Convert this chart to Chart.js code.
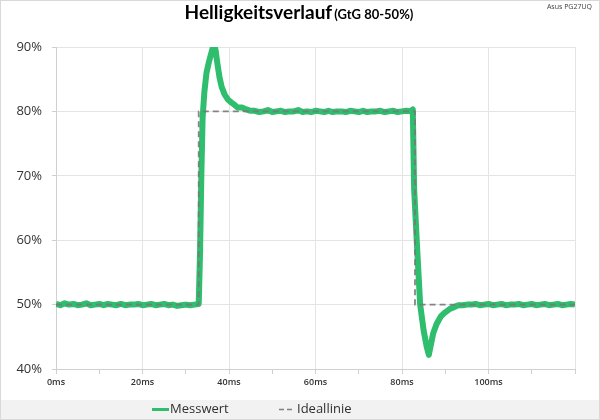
<!DOCTYPE html>
<html>
<head>
<meta charset="utf-8">
<script src="https://cdn.jsdelivr.net/npm/chart.js@4.4.1/dist/chart.umd.min.js"></script>
<style>
  body { margin: 0; background: #fff; }
  canvas { display: block; }
</style>
</head>
<body>
<canvas id="chart" width="600" height="420"></canvas>
<script>
// Messwert (measured brightness, %) over time (ms)
const measuredTimes = [
  0, 1, 2, 3, 4, 5, 6, 7, 8, 9, 10, 11, 12, 13, 14, 15, 16, 17, 18, 19,
  20, 21, 22, 23, 24, 25, 26, 27, 28, 29, 30, 31, 32, 33,
  33.3, 33.6, 33.9, 34.3, 34.8, 35.3, 35.8, 36.3, 36.6, 36.9, 37.3, 37.8,
  38.3, 39, 39.8, 40.5, 41.3, 42, 43, 44, 45,
  46, 47, 48, 49, 50, 51, 52, 53, 54, 55, 56, 57, 58, 59, 60, 61, 62, 63,
  64, 65, 66, 67, 68, 69, 70, 71, 72, 73, 74, 75, 76, 77, 78, 79, 80, 81, 82,
  82.5, 82.8, 83.4, 84.2, 85, 85.7, 86.2, 86.6, 87.2, 88, 89, 90, 91, 92, 93, 94,
  95, 96, 97, 98, 99, 100, 101, 102, 103, 104, 105, 106, 107, 108, 109, 110,
  111, 112, 113, 114, 115, 116, 117, 118, 119, 120
];
const measuredValues = [
  50.1, 49.9, 50.2, 50.0, 50.1, 49.9, 50.0, 50.2, 49.9, 50.0, 50.1, 49.9, 50.1, 50.0, 49.9, 50.1, 49.9, 50.0, 50.0, 50.1,
  49.9, 50.0, 50.1, 49.9, 50.0, 50.1, 49.9, 50.0, 49.8, 49.9, 50.0, 49.9, 50.0, 50.1,
  58, 70, 79, 83, 86, 87.5, 88.8, 90, 90.3, 89.5, 87.5, 85.3,
  83.8, 82.6, 81.8, 81.4, 81.0, 80.6, 80.6, 80.3, 80.1,
  80.1, 79.9, 80.0, 80.2, 79.9, 80.0, 80.1, 79.9, 80.0, 80.0, 80.2, 79.9, 80.0, 79.9, 80.1, 80.0, 79.9, 80.1,
  79.9, 80.0, 80.0, 79.9, 80.1, 80.0, 79.9, 80.1, 79.9, 80.0, 80.0, 80.1, 79.9, 80.0, 80.1, 79.9, 80.0, 80.1, 80.0,
  80.3, 68, 60, 50, 46, 43.5, 42.2, 43.5, 45.5, 47.0, 48.2, 48.8, 49.3, 49.6, 49.9, 49.9,
  50.0, 50.0, 50.1, 49.9, 50.0, 50.1, 49.9, 50.0, 50.1, 49.9, 50.0, 50.0, 50.1, 49.9, 50.0, 50.1,
  49.9, 50.0, 50.1, 49.9, 50.0, 50.1, 49.9, 50.0, 50.1, 50.0
];

// Ideallinie (ideal step response)
const idealTimes = [0, 33, 33, 83, 83, 120];
const idealValues = [50, 50, 80, 80, 50, 50];

const seriesNames = ['Messwert', 'Ideallinie'];
const titleMain = 'Helligkeitsverlauf';
const titleSub = '(GtG 80-50%)';
const cornerNote = 'Asus PG27UQ';

const green = '#2fbd6e';
const idealGray = 'rgba(120,120,120,0.9)';
const axisGray = '#d0d0d0';
const gridGray = '#e4e4e4';

const toPoints = (xs, ys) => xs.map((x, i) => ({ x: x, y: ys[i] }));

// draws title, corner note, legend band and outer border
const decorPlugin = {
  id: 'decor',
  beforeDraw(chart) {
    const ctx = chart.ctx;
    ctx.save();
    ctx.fillStyle = '#f2f2f2';
    ctx.fillRect(1, 400, 598, 19);
    ctx.restore();
  },
  afterDraw(chart) {
    const ctx = chart.ctx;
    ctx.save();

    // title
    ctx.fillStyle = '#000';
    ctx.textBaseline = 'alphabetic';
    ctx.font = 'bold 19px Lato';
    const w1 = ctx.measureText(titleMain).width;
    ctx.font = 'bold 13px Lato';
    const w2 = ctx.measureText(titleSub).width;
    let x0 = 299 - (w1 + w2 + 2) / 2;
    ctx.font = 'bold 19px Lato';
    ctx.fillText(titleMain, x0, 19);
    ctx.font = 'bold 13px Lato';
    ctx.fillText(titleSub, x0 + w1 + 2, 19);

    // corner note
    ctx.font = '7px "Open Sans"';
    ctx.fillStyle = '#404040';
    ctx.textAlign = 'right';
    ctx.fillText(cornerNote, 592, 9);

    // legend
    ctx.textAlign = 'left';
    ctx.textBaseline = 'middle';
    ctx.font = '13px "Open Sans"';
    ctx.fillStyle = '#303030';
    ctx.strokeStyle = green;
    ctx.lineWidth = 3;
    ctx.beginPath();
    ctx.moveTo(152, 409.5);
    ctx.lineTo(169, 409.5);
    ctx.stroke();
    ctx.fillText(seriesNames[0], 170, 409);

    ctx.strokeStyle = '#808080';
    ctx.lineWidth = 1.5;
    ctx.setLineDash([5, 3]);
    ctx.beginPath();
    ctx.moveTo(279, 409.5);
    ctx.lineTo(292, 409.5);
    ctx.stroke();
    ctx.setLineDash([]);
    ctx.fillText(seriesNames[1], 297, 409);

    // outer border
    ctx.strokeStyle = '#d9d9d9';
    ctx.lineWidth = 1;
    ctx.strokeRect(0.5, 0.5, 599, 419);
    ctx.restore();
  }
};

new Chart(document.getElementById('chart').getContext('2d'), {
  type: 'line',
  data: {
    datasets: [
      {
        label: seriesNames[0],
        data: toPoints(measuredTimes, measuredValues),
        borderColor: green,
        borderWidth: 6,
        borderJoinStyle: 'round',
        pointRadius: 0,
        tension: 0,
        order: 2
      },
      {
        label: seriesNames[1],
        data: toPoints(idealTimes, idealValues),
        borderColor: idealGray,
        borderWidth: 1.8,
        borderDash: [6, 4],
        pointRadius: 0,
        tension: 0,
        order: 1
      }
    ]
  },
  options: {
    responsive: false,
    animation: false,
    layout: { padding: { top: 47, right: 25, bottom: 0, left: 0 } },
    plugins: {
      legend: { display: false },
      title: { display: false },
      tooltip: { enabled: false }
    },
    scales: {
      x: {
        type: 'linear',
        min: 0,
        max: 120,
        afterFit(scale) { scale.height = 51; },
        border: { color: axisGray, width: 1 },
        grid: {
          color: (c) => (c.tick && c.tick.value % 20 === 0) ? gridGray : 'rgba(0,0,0,0)',
          tickColor: axisGray,
          tickLength: 5
        },
        ticks: {
          stepSize: 10,
          autoSkip: false,
          maxRotation: 0,
          padding: 3,
          color: '#333',
          font: { family: 'Open Sans', size: 9, weight: '600' },
          callback: (v) => (v % 20 === 0 && v < 120) ? v + 'ms' : ''
        }
      },
      y: {
        min: 40,
        max: 90,
        afterFit(scale) { scale.width = 56; },
        border: { color: axisGray, width: 1 },
        grid: { color: gridGray, tickColor: axisGray, tickLength: 4 },
        ticks: {
          stepSize: 10,
          padding: 10,
          color: '#333',
          font: { family: 'Open Sans', size: 13 },
          callback: (v) => v + '%'
        }
      }
    }
  },
  plugins: [decorPlugin]
});
</script>
</body>
</html>
